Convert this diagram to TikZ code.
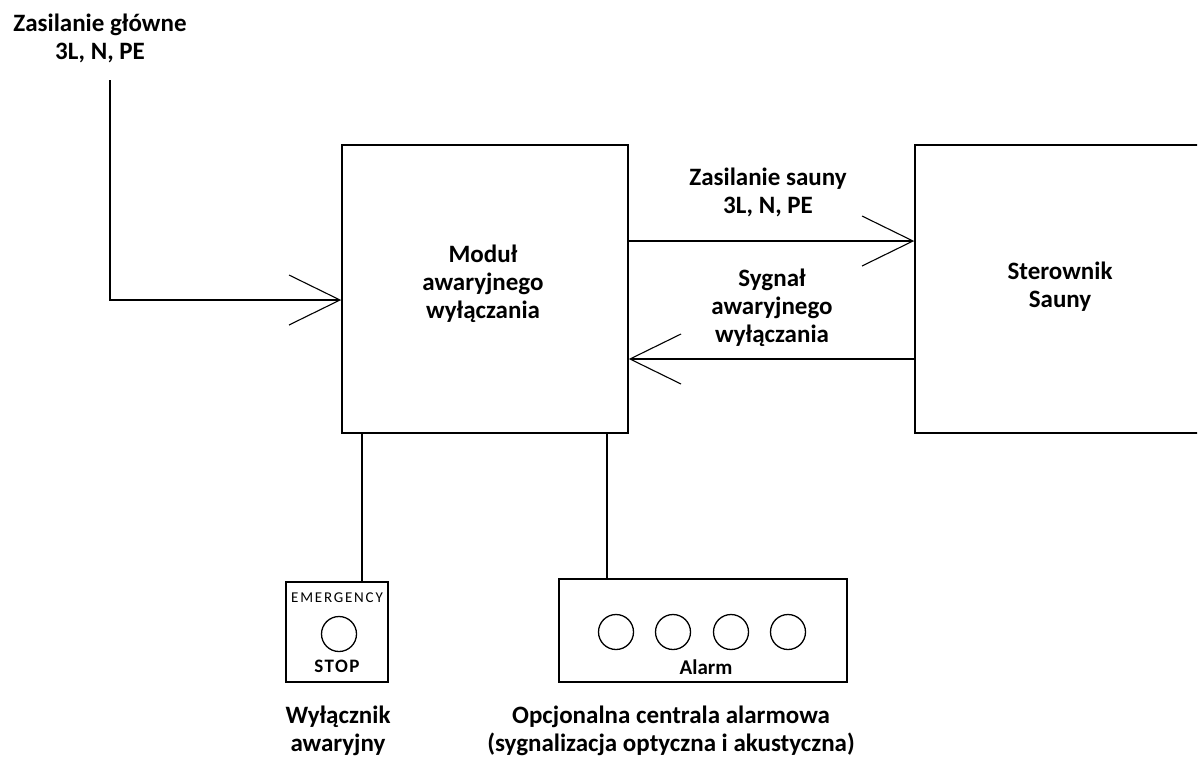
\documentclass[tikz,border=0pt]{standalone}
\usepackage{fontspec}
\setmainfont{Carlito}
\usetikzlibrary{arrows.meta,positioning}
\tikzset{
  >={Straight Barb[length=51pt,width=50pt,line width=1.1pt]},
  blok/.style={draw, line width=1.5pt, minimum width=286pt, minimum height=288pt, inner sep=0pt},
  lbl/.style={font=\bfseries\fontsize{25}{28}\selectfont, align=center, inner sep=0pt},
  wire/.style={line width=1.5pt},
  lamp/.style={draw, circle, line width=1.3pt, minimum size=35pt, inner sep=0pt}
}
\begin{document}
\begin{tikzpicture}[x=1pt,y=-1pt]
      \useasboundingbox (0,0) rectangle (1201,769);
      \clip (0,0) rectangle (1197,769);
      % bloki glowne
      \node[blok] (modul) at (485, 289) {};
      \node[lbl] at (483, 284) {Moduł\\awaryjnego\\wyłączania};
      \node[blok] (sterownik) at (1058, 289) {};
      \node[lbl] at (1060, 287) {Sterownik\\Sauny};

      % zasilanie glowne
      \coordinate (zrodlo) at (110, 80);
      \node[lbl] (zasgl) at (100, 38) {Zasilanie główne\\3L, N, PE};
      \draw[wire,->] (zrodlo) |- ([yshift=-11pt]modul.west);

      % polaczenia modul - sterownik
      \draw[wire,->] ([yshift=48pt]modul.east) -- ([yshift=48pt]sterownik.west);
      \draw[wire,->] ([yshift=-70pt]sterownik.west) -- ([yshift=-70pt]modul.east);
      \node[lbl] (zassa) at (768, 192) {Zasilanie sauny\\3L, N, PE};
      \node[lbl] (sygnal) at (772, 308) {Sygnał\\awaryjnego\\wyłączania};

      % wylacznik awaryjny
      \node[draw, line width=1.3pt, minimum width=102pt, minimum height=100pt] (stop) at (337, 632) {};
      \node[lamp] (grzyb) at (339, 634) {};
      \node[font=\fontsize{15}{17}\selectfont\addfontfeature{LetterSpace=12}, inner sep=0pt] (emerg) at (337, 598) {EMERGENCY};
      \node[font=\bfseries\fontsize{19}{21}\selectfont\addfontfeature{LetterSpace=8}, inner sep=0pt] (stoptxt) at (337, 666) {STOP};
      \node[lbl] (wylacznik) at (338, 731) {Wyłącznik\\awaryjny};
      \draw[wire] ([xshift=25pt]stop.north) coordinate (stopwe) -- (stopwe |- modul.south);

      % centrala alarmowa
      \node[draw, line width=1.3pt, minimum width=288pt, minimum height=103pt] (alarm) at (703, 630.5) {};
      \foreach \x [count=\i] in {616, 673, 731, 788}
        \node[lamp] (lampa\i) at (\x, 632) {};
      \node[font=\bfseries\fontsize{21}{23}\selectfont, inner sep=0pt] (alarmtxt) at (706, 667) {Alarm};
      \node[lbl] (centrala) at (671, 731) {Opcjonalna centrala alarmowa\\(sygnalizacja optyczna i akustyczna)};
      \draw[wire] ([xshift=-96pt]alarm.north) coordinate (alarmwe) -- (alarmwe |- modul.south);
\end{tikzpicture}
\end{document}
